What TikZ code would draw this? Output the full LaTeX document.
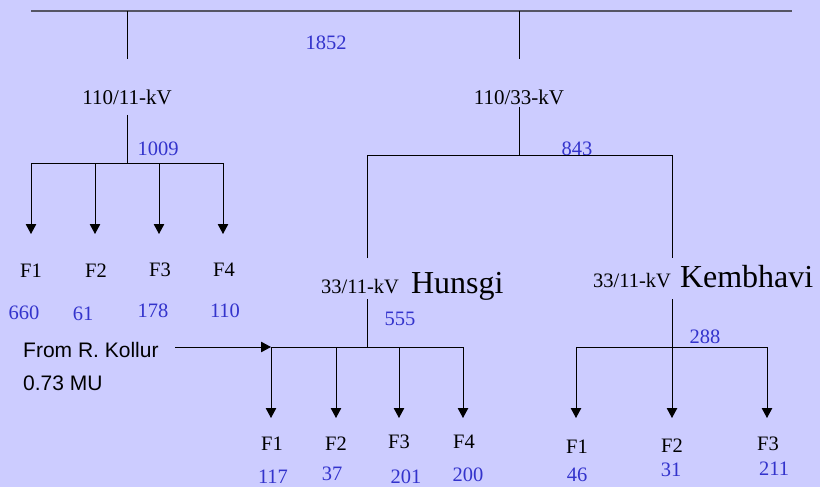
\documentclass[tikz,border=0pt]{standalone}
\usepackage{fontspec}
\setmainfont{Liberation Serif}
\newfontfamily\notesans{Liberation Sans}
\usetikzlibrary{arrows.meta}
\definecolor{bg}{RGB}{204,204,255}
\definecolor{flow}{RGB}{51,51,204}
\definecolor{busgray}{RGB}{85,85,100}

\begin{document}
\begin{tikzpicture}[x=1pt,y=-1pt,
  wire/.style={draw=black,line width=1pt},
  feed/.style={wire,-{Triangle[length=10pt,width=10.5pt]}},
  busbar/.style={draw=busgray,line width=1.6pt},
  lbl/.style={font=\fontsize{21}{21}\selectfont,anchor=base,inner sep=0pt},
  mw/.style={font=\fontsize{20.5}{20.5}\selectfont,text=flow,anchor=base,inner sep=0pt},
  fd/.style={font=\fontsize{20.5}{20.5}\selectfont,anchor=base,inner sep=0pt},
  note/.style={font=\notesans\fontsize{21}{21}\selectfont,anchor=base west,inner sep=0pt},
  station/.style={font=\fontsize{20.5}{20.5}\selectfont,anchor=base west,inner sep=0pt}
]
% background and page size
\fill[bg] (0,0) rectangle (820,487);
\useasboundingbox (0,0) rectangle (820,487);

% 110 kV bus
\coordinate (busL) at (31,11);
\coordinate (busR) at (792,11);
\coordinate (tapA) at (127,11);
\coordinate (tapB) at (519,11);
\draw[busbar] (busL) -- (busR);
\node[mw] (f1852) at (326,50) {1852};

% 110/11 kV station
\coordinate (tAin) at (127,59);
\node[lbl] (tA) at (127,104) {110/11-kV};
\coordinate (tAout) at (127,115);
\coordinate (jA) at (127,163);
\draw[wire] (tapA) -- (tAin);
\draw[wire] (tAout) -- (jA);
\node[mw] (f1009) at (158,155) {1009};
\coordinate (hA1) at (31,163);
\coordinate (hA2) at (95,163);
\coordinate (hA3) at (159,163);
\coordinate (hA4) at (223,163);
\draw[wire] (hA1) -- (hA4);
\coordinate (aA1) at (31,234);
\coordinate (aA2) at (95,234);
\coordinate (aA3) at (159,234);
\coordinate (aA4) at (223,234);
\foreach \i in {1,...,4} \draw[feed] (hA\i) -- (aA\i);
\node[fd] (A1) at (31,277) {F1};
\node[fd] (A2) at (96,277) {F2};
\node[fd] (A3) at (160,276) {F3};
\node[fd] (A4) at (224,276) {F4};
\node[mw] (vA1) at (24,319) {660};
\node[mw] (vA2) at (83,320) {61};
\node[mw] (vA3) at (153,317) {178};
\node[mw] (vA4) at (225,317) {110};

% 110/33 kV station
\coordinate (tBin) at (519,59);
\node[lbl] (tB) at (519,104) {110/33-kV};
\coordinate (tBout) at (519,107);
\coordinate (jB) at (519,155);
\draw[wire] (tapB) -- (tBin);
\draw[wire] (tBout) -- (jB);
\node[mw] (f843) at (577,155) {843};
\coordinate (hBL) at (367,155);
\coordinate (hBR) at (672,155);
\coordinate (hBLend) at (367,258);
\coordinate (hBRend) at (672,258);
\draw[wire] (hBLend) -- (hBL) -- (hBR) -- (hBRend);

% 33/11 kV Hunsgi
\node[station] (sH) at (321,293) {33/11-kV\hspace{12pt}{\fontsize{32}{32}\selectfont Hunsgi}};
\coordinate (sHout) at (367,299);
\coordinate (jH) at (367,347);
\draw[wire] (sHout) -- (jH);
\node[mw] (f555) at (400,325) {555};
\coordinate (hH1) at (271,347);
\coordinate (hH2) at (336,347);
\coordinate (hH3) at (399,347);
\coordinate (hH4) at (463,347);
\draw[wire] (hH1) -- (hH4);
\foreach \i/\x in {1/271,2/336,3/399,4/463} \coordinate (aH\i) at (\x,418);
\foreach \i in {1,...,4} \draw[feed] (hH\i) -- (aH\i);
\node[fd] (H1) at (272,450) {F1};
\node[fd] (H2) at (336,450) {F2};
\node[fd] (H3) at (399,448) {F3};
\node[fd] (H4) at (464,448) {F4};
\node[mw] (vH1) at (273,483) {117};
\node[mw] (vH2) at (332,480) {37};
\node[mw] (vH3) at (406,483) {201};
\node[mw] (vH4) at (468,481) {200};

% supply from R. Kollur
\node[note] (kol) at (23,357) {From R. Kollur};
\node[note] (kolmu) at (23,390) {0.73 MU};
\coordinate (kolstart) at (175,347);
\draw[feed] (kolstart) -- (hH1);

% 33/11 kV Kembhavi
\node[station] (sK) at (593,287) {33/11-kV\hspace{9pt}{\fontsize{32}{32}\selectfont Kembhavi}};
\coordinate (sKout) at (672,299);
\coordinate (jK) at (672,347);
\draw[wire] (sKout) -- (jK);
\node[mw] (f288) at (705,343) {288};
\coordinate (hK1) at (576,347);
\coordinate (hK2) at (672,347);
\coordinate (hK3) at (767,347);
\draw[wire] (hK1) -- (hK3);
\foreach \i/\x in {1/576,2/672,3/767} \coordinate (aK\i) at (\x,418);
\foreach \i in {1,...,3} \draw[feed] (hK\i) -- (aK\i);
\node[fd] (K1) at (577,453) {F1};
\node[fd] (K2) at (672,452) {F2};
\node[fd] (K3) at (768,450) {F3};
\node[mw] (vK1) at (577,481) {46};
\node[mw] (vK2) at (671,476) {31};
\node[mw] (vK3) at (774,475) {211};
\end{tikzpicture}
\end{document}
